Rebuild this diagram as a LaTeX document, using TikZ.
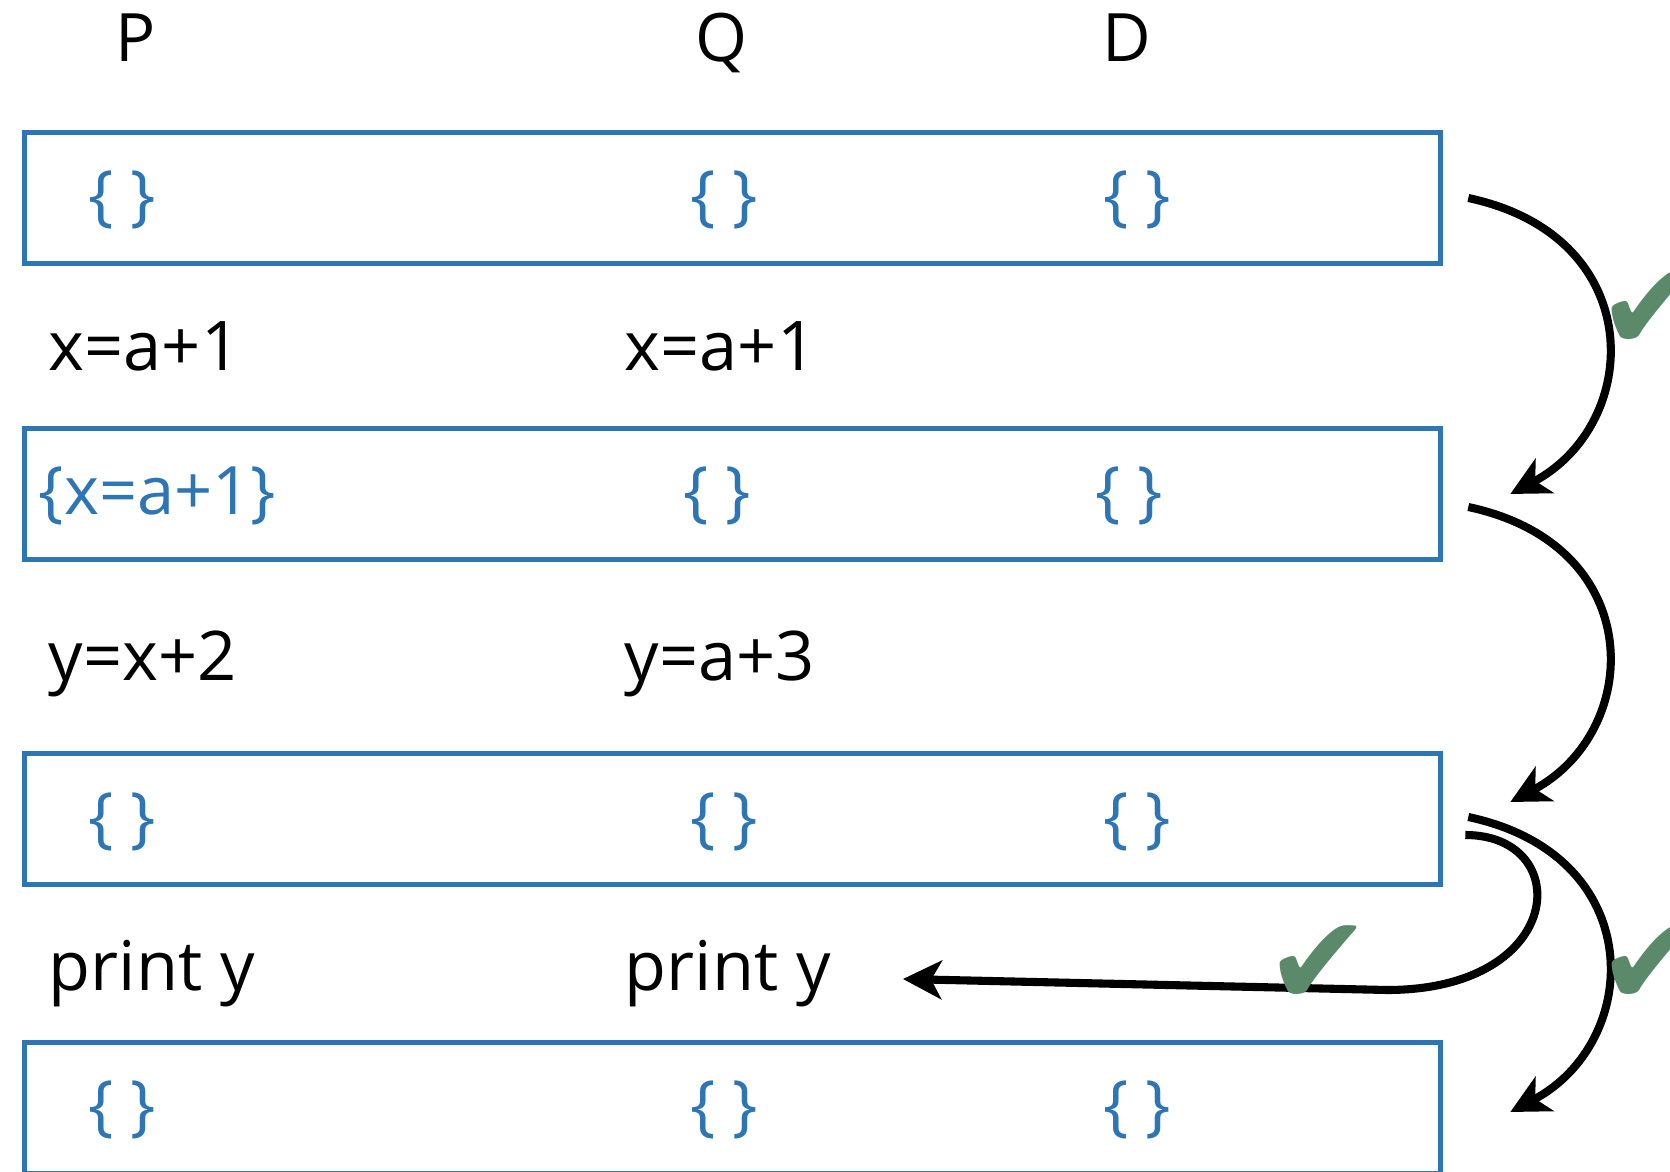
\documentclass[tikz,border=0pt]{standalone}
\usepackage{fontspec}
\setmainfont{Open Sans}
\newfontfamily\symfont{DejaVu Sans}
\usepackage{tikz}
\usetikzlibrary{arrows.meta, positioning}
\definecolor{boxblue}{HTML}{2E75B6}
\definecolor{okgreen}{HTML}{5B8A6B}

\begin{document}
\begin{tikzpicture}[
    state/.style={rectangle, draw=boxblue, line width=1.6pt, minimum width=14.16cm, minimum height=1.31cm, inner sep=0pt},
    setval/.style={text=boxblue, font=\fontsize{19}{23}\selectfont, inner sep=0pt},
    stmt/.style={font=\fontsize{19.5}{23}\selectfont, inner sep=0pt, anchor=base west},
    head/.style={font=\fontsize{19}{23}\selectfont, inner sep=0pt, anchor=base},
    flow/.style={line width=2.3pt, -{Stealth[length=11pt, width=11pt, inset=3pt]}},
    ok/.style={text=okgreen, font=\fontsize{36}{36}\symfont, inner sep=0pt},
]
    \useasboundingbox (0,0) rectangle (16.70,-11.72);
    % Column headings
    \node[head] (hP) at (1.36,-0.61) {P};
    \node[head] (hQ) at (7.22,-0.61) {Q};
    \node[head] (hD) at (11.27,-0.61) {D};
    % States
    \node[state] (s1) at (7.325,-1.98) {};
    \node[state] (s2) at (7.325,-4.94) {};
    \node[state] (s3) at (7.325,-8.19) {};
    \node[state] (s4) at (7.325,-11.08) {};
    % Empty sets
    \foreach \r/\y in {1/-2.00, 3/-8.22, 4/-11.10} {
        \foreach \c/\x in {p/1.22, q/7.24, d/11.37} {
            \node[setval] (e\r\c) at (\x,\y) {\{ \}};
        }
    }
    \node[setval] (e2p) at (1.575,-4.96) {\{x=a+1\}};
    \node[setval] (e2q) at (7.17,-4.96) {\{ \}};
    \node[setval] (e2d) at (11.29,-4.96) {\{ \}};
    % Statements
    \node[stmt] (xP) at (0.48,-3.70) {x=a+1};
    \node[stmt] (xQ) at (6.24,-3.70) {x=a+1};
    \node[stmt] (yP) at (0.48,-6.80) {y=x+2};
    \node[stmt] (yQ) at (6.24,-6.80) {y=a+3};
    \node[stmt] (prP) at (0.48,-9.90) {print y};
    \node[stmt] (prQ) at (6.24,-9.90) {print y};
    % Flow edges
    \draw[flow] ([xshift=0.25cm]s1.east) .. controls +(1.81,-0.385) and +(1.325,0.70) .. ([xshift=0.67cm]s2.east);
    \draw[flow] ([shift={(0.25,-0.13)}]s2.east) .. controls +(1.81,-0.385) and +(1.325,0.70) .. ([shift={(0.67,0.17)}]s3.east);
    \draw[flow] ([shift={(0.25,0.02)}]s3.east) .. controls +(1.81,-0.385) and +(1.325,0.70) .. ([shift={(0.67,-0.04)}]s4.east);
    \coordinate (tip) at (9.03,-9.79);
    \draw[flow] ([shift={(0.22,-0.16)}]s3.east) .. controls +(1.1,0) and +(1.8,0) .. (13.87,-9.90) -- (tip);
    % Checks
    \node[ok] (c1) at (16.51,-3.11) {✔};
    \node[ok] (c2) at (13.19,-9.66) {✔};
    \node[ok] (c3) at (16.51,-9.66) {✔};
\end{tikzpicture}
\end{document}
